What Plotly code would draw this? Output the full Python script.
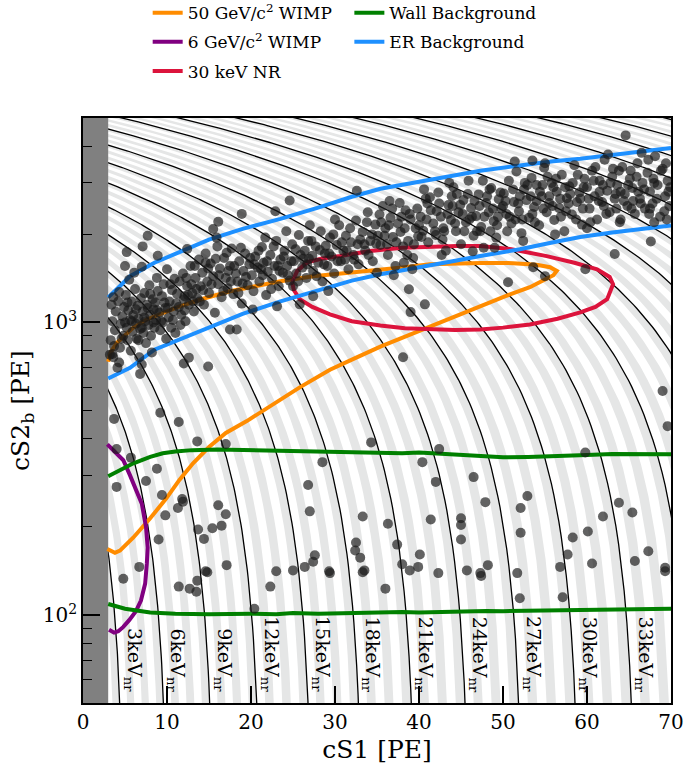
import numpy as np
import plotly.graph_objects as go

# ---------------- data ----------------
# NR energy contours: energy [keVnr] and cS1 intercept at cS2b = 0
contour_energy = [3, 6, 9, 12, 15, 18, 21, 24, 27, 30, 33]
contour_s1_intercept = [5.0, 10.2, 15.7, 21.3, 27.4, 33.4, 39.7, 46.1, 52.5, 59.2, 65.9]
upper_energy = [36, 39, 42, 45, 48, 51, 54, 57, 60, 63, 66]
upper_s1_intercept = [72.7, 79.6, 86.6, 93.7, 100.9, 108.2, 115.6, 123.1, 130.7, 138.4, 146.2]
contour_slope = 81.7  # cS2b per cS1 along a contour

# 50 GeV/c^2 WIMP contour
wimp50_s1 = [3.0, 3.3, 4.0, 4.8, 6.0, 7.6, 9.5, 11.5, 14.5, 17.5, 20.5, 23.5, 27.4, 31.0, 34.2, 38.0,
             41.3, 44.5, 47.3, 51.2, 54.0, 55.6, 56.4, 56.0, 54.5, 53.2, 50.3, 47.3, 44.3, 41.3, 38.3,
             35.4, 32.4, 29.4, 25.8, 22.3, 19.5, 17.0, 15.0, 13.1, 11.5, 9.9, 8.0, 6.0, 4.4, 3.8, 3.3, 2.9]
wimp50_s2 = [734, 790, 850, 895, 960, 1024, 1080, 1135, 1210, 1278, 1330, 1383, 1439, 1470, 1495, 1540,
             1580, 1595, 1598, 1595, 1575, 1545, 1500, 1450, 1380, 1320, 1230, 1135, 1045, 961, 890,
             827, 755, 689, 600, 518, 460, 419, 375, 330, 290, 250, 214, 184, 166, 163, 165, 168]

# 6 GeV/c^2 WIMP contour
wimp6_s1 = [2.9, 3.8, 4.8, 5.6, 6.3, 7.0, 7.5, 7.7, 7.6, 7.4, 6.9, 6.3, 5.5, 4.8, 4.2, 3.7, 3.1]
wimp6_s2 = [383, 360, 338, 300, 267, 240, 200, 170, 150, 128, 112, 103, 96, 91, 88, 87, 89]

# 30 keV NR contour
nr30_s1 = [24.9, 25.5, 26.7, 28.5, 30.6, 34.2, 38.0, 41.3, 44.5, 47.3, 51.0, 55.2, 58.5, 61.2, 62.7,
           63.1, 62.4, 61.0, 59.2, 56.5, 53.2, 50.0, 47.3, 44.3, 41.3, 38.3, 35.4, 32.0, 29.4, 27.3,
           25.8, 25.1, 24.9]
nr30_s2 = [1373, 1500, 1607, 1655, 1686, 1755, 1800, 1815, 1824, 1824, 1780, 1686, 1600, 1520, 1430,
           1351, 1200, 1130, 1082, 1030, 984, 960, 946, 943, 946, 955, 977, 1010, 1065, 1130,
           1200, 1290, 1373]

# Wall background band
wall_hi_s1 = [3, 4.5, 6, 8, 9.5, 11, 13, 16, 20, 23, 25, 28, 30, 33, 35, 38, 40, 43, 45, 48, 50, 53, 55, 58, 60, 63, 65, 68, 70]
wall_hi_s2 = [298, 315, 330, 347, 357, 362, 366, 368, 366, 364, 362, 361, 360, 359, 358, 357, 359, 355, 352, 349, 346, 347, 348, 351, 352, 355, 355, 353, 354]
wall_lo_s1 = [3, 5, 8, 11, 15, 18, 20, 23, 25, 28, 30, 33, 35, 38, 40, 43, 45, 48, 50, 53, 55, 58, 60, 63, 65, 68, 70]
wall_lo_s2 = [109, 105, 102, 101, 100.5, 101.2, 101, 100.6, 101.5, 101, 101.3, 101.8, 101.5, 102.3, 102, 102.6, 102.5, 103.2, 103, 103.4, 103.5, 104.2, 104, 104.1, 104.5, 105.2, 105]

# ER background band
er_s1 = [3, 5.6, 8.5, 11.5, 15, 19, 23.5, 28, 32, 35.4, 40, 44, 47.3, 52, 56, 59.2, 63, 66.5, 70]
er_hi_s2 = [1218, 1439, 1600, 1740, 1920, 2090, 2259, 2470, 2690, 2865, 3020, 3180, 3302, 3440, 3560, 3630, 3740, 3840, 3950]
er_lo_s2 = [643, 700, 807, 874, 960, 1070, 1181, 1290, 1390, 1462, 1540, 1620, 1686, 1780, 1880, 1960, 2030, 2090, 2145]

# events (cS1, cS2b)
events_band_low = [
    (3.3, 870), (3.5, 1010), (3.6, 760), (3.8, 940), (3.9, 1090), (4.1, 700), (4.2, 1180), (4.4, 820),
    (4.5, 990), (4.7, 1050), (4.8, 900), (4.9, 1130), (3.4, 1150), (3.2, 776), (3.7, 830),
    (5.1, 1240), (5.2, 960), (5.3, 870), (5.4, 1100), (5.6, 1020), (5.7, 800), (5.8, 1180), (5.9, 930),
    (6.0, 1060), (6.2, 1300), (6.3, 990), (6.4, 880), (6.5, 1140), (6.6, 1030), (6.8, 950), (6.9, 1210),
    (5.5, 1400), (6.1, 1480), (6.7, 760), (5.0, 1560),
    (7.7, 1980), (7.1, 1820), (5.2, 1740), (8.9, 1690), (12.4, 1782),
    (7.1, 1090), (7.2, 920), (7.3, 1260), (7.4, 1010), (7.5, 850), (7.6, 1150), (7.8, 980), (7.9, 1340),
    (8.0, 1060), (8.1, 900), (8.3, 1200), (8.4, 1110), (8.5, 960), (8.7, 1020), (8.8, 1420), (8.9, 1280),
    (7.0, 1550), (8.2, 790), (8.6, 1170),
    (9.1, 1080), (9.2, 940), (9.4, 1230), (9.5, 1000), (9.6, 1350), (9.8, 1120), (9.9, 880), (10.0, 1520),
    (10.2, 1040), (10.3, 1180), (10.5, 960), (10.6, 1290), (10.8, 1090), (10.9, 1410), (11.0, 920),
    (3.6, 1220), (4.3, 1270), (4.6, 880), (5.0, 1000), (5.3, 1170), (5.8, 1010), (6.3, 1110), (6.6, 870),
    (7.0, 960), (7.3, 1040), (7.7, 1120), (8.0, 1250), (8.4, 1000), (8.8, 1100), (9.3, 1010), (9.7, 1170),
    (10.1, 1120), (10.4, 1350), (10.7, 1020), (11.1, 1160), (11.6, 980), (12.1, 1100), (12.5, 1240),
    (13.1, 1180), (13.5, 1300),
]
events_band_mid = [
    (11.2, 1250), (11.4, 1130), (11.5, 1380), (11.7, 1060), (11.9, 1470), (12.0, 1200), (12.2, 1010),
    (12.4, 1330), (12.6, 1150), (12.8, 1560), (13.0, 1260), (13.2, 1090), (13.4, 1420), (13.6, 1210),
    (13.8, 1640), (14.0, 1330),
    (14.2, 1480), (14.4, 1150), (14.6, 1720), (14.8, 1380), (15.0, 1260), (15.2, 1590), (15.5, 1440),
    (15.7, 1080), (15.9, 1950), (16.1, 1350), (16.3, 1530), (16.5, 1220), (16.8, 1660), (17.0, 1420),
    (17.2, 1310), (17.5, 1560), (17.7, 1790), (17.9, 1250), (18.2, 1470), (18.4, 1380), (18.6, 1620),
    (18.9, 1160), (19.1, 1500), (19.3, 1720), (19.6, 1340), (19.8, 1580), (16.1, 2210), (15.5, 2088),
    (18.9, 2350),
    (20.1, 1450), (20.3, 1280), (20.5, 1680), (20.8, 1540), (21.0, 1380), (21.3, 1810), (21.5, 1600),
    (21.8, 1240), (22.0, 1490), (22.3, 1700), (22.5, 1410), (22.8, 1560), (23.0, 1900), (23.3, 1330),
    (23.5, 1640), (23.8, 1480), (24.0, 1760), (24.3, 1560), (24.6, 1390), (24.9, 1850), (25.1, 1620),
    (25.4, 1470), (25.7, 1990), (25.9, 1700), (22.9, 2400), (24.6, 2610), (20.2, 1108), (17.5, 946),
    (18.3, 946), (12.1, 1230),
    (26.1, 1540), (26.4, 1760), (26.6, 1420), (26.9, 1650), (27.2, 1900), (27.4, 1500), (27.7, 1820),
    (28.0, 1600), (28.3, 2050), (28.5, 1380), (28.8, 1720), (29.1, 1560), (29.4, 1950), (29.6, 1680),
    (29.9, 1470), (30.2, 1840), (30.5, 2150), (30.7, 1620), (31.0, 1760), (31.3, 1980), (31.6, 1520),
    (31.9, 1880), (32.2, 1700), (32.5, 2230), (32.8, 1580), (33.0, 1920), (32.6, 2820), (25.0, 1330),
    (27.4, 1230), (29.2, 1280), (23.1, 1135), (25.8, 1153),
    (19.0, 1360), (21.2, 1520), (23.2, 1560), (26.7, 1580), (28.9, 1830), (31.2, 1640), (33.5, 1850),
    (12.3, 1420), (12.9, 1350), (13.3, 1560), (13.9, 1180), (14.3, 1290), (14.9, 1530), (15.3, 1350),
    (15.8, 1650), (16.2, 1450), (16.7, 1280), (17.1, 1730), (17.6, 1380), (18.0, 1560), (18.5, 1260),
    (18.8, 1800), (19.4, 1430), (19.9, 1660), (14.6, 1600), (16.0, 1820), (17.3, 1500),
    (20.4, 1580), (20.9, 1760), (21.4, 1450), (21.9, 1620), (22.4, 1300), (22.7, 1820), (23.4, 1500),
    (23.9, 1680), (24.4, 1450), (24.8, 1620), (25.3, 1780), (25.6, 1380), (26.2, 1650), (26.8, 1900),
    (27.3, 1690), (27.8, 1440), (28.2, 1770), (28.7, 1580), (29.3, 1720), (29.8, 2000), (30.3, 1620),
    (30.8, 1880), (31.4, 1760), (31.8, 2100), (32.3, 1640), (32.7, 1850), (21.7, 1950), (24.2, 2050),
    (27.0, 2150), (30.0, 2250),
]
events_band_high = [
    (33.3, 2040), (33.6, 1760), (33.9, 2380), (34.2, 1900), (34.5, 1620), (34.8, 2160), (35.1, 1980),
    (35.4, 1840), (35.7, 2500), (36.0, 2100), (36.3, 1700), (36.6, 2280), (36.9, 1960), (37.2, 1560),
    (37.5, 2180), (37.8, 2040), (38.1, 1820), (38.4, 2420), (38.7, 1900), (39.0, 2250), (39.3, 1660),
    (39.6, 2100), (39.9, 1970), (35.0, 1480), (37.0, 1450), (39.2, 1520),
    (40.2, 2300), (40.5, 2060), (40.8, 2650), (41.1, 1880), (41.4, 2420), (41.7, 2180), (42.0, 1990),
    (42.3, 2780), (42.6, 2300), (42.9, 2100), (43.2, 1760), (43.5, 2520), (43.8, 2240), (44.1, 2900),
    (44.4, 2050), (44.7, 2380), (45.0, 1850), (45.3, 2620), (45.6, 2200), (45.9, 3050), (46.2, 2460),
    (46.5, 1980), (46.8, 2310), (47.1, 2740), (47.4, 2120), (47.7, 1800), (48.0, 2560), (48.3, 2380),
    (48.6, 2880), (48.9, 2220), (49.2, 1950), (49.5, 2640), (49.8, 2450), (51.4, 3550), (53.5, 3580),
    (38.8, 1298), (40.7, 1153), (39.0, 1085), (38.1, 760), (50.6, 1373),
    (50.1, 2760), (50.4, 2350), (50.7, 3050), (51.0, 2180), (51.3, 2580), (51.6, 3280), (51.9, 2400),
    (52.2, 2020), (52.5, 2850), (52.8, 2620), (53.1, 2280), (53.4, 3120), (53.7, 2480), (54.0, 2950),
    (54.3, 2150), (54.6, 2700), (54.9, 3380), (55.2, 2380), (55.5, 2560), (55.8, 3000), (56.1, 2240),
    (56.4, 2800), (56.7, 2460), (57.0, 3200), (57.3, 2050), (57.6, 2660), (57.9, 2920), (58.2, 2340),
    (58.5, 3450), (58.8, 2580), (59.1, 2780), (59.4, 2160), (59.7, 3100), (53.6, 1545), (55.0, 1440),
    (59.8, 1521), (63.3, 1714), (67.6, 1890),
    (60.0, 2900), (60.3, 2450), (60.6, 3300), (60.9, 2700), (61.2, 2250), (61.5, 3050), (61.8, 2580),
    (62.1, 3600), (62.4, 2820), (62.7, 2380), (63.0, 3150), (63.3, 2650), (63.6, 2950), (63.9, 2200),
    (64.2, 3400), (64.5, 2750), (64.8, 2500), (65.1, 3100), (65.4, 2880), (65.7, 2350), (66.0, 3500),
    (66.3, 2650), (66.6, 3000), (66.9, 2450), (67.2, 3250), (67.5, 2800), (67.8, 2550), (68.1, 3700),
    (68.4, 2950), (68.7, 2300), (69.0, 3350), (69.3, 2700), (69.6, 3050), (69.8, 2500), (64.6, 4360),
    (35.5, 2200), (37.9, 2300), (40.0, 2150), (42.1, 2400), (44.0, 2500), (46.0, 2250), (48.1, 2700),
    (50.0, 2500), (52.0, 2700), (54.0, 2600), (56.0, 2900), (58.0, 2750), (60.2, 2650), (62.0, 2500),
    (64.0, 2800), (66.1, 2800), (68.0, 3000), (69.9, 2900), (36.2, 1850), (38.6, 1700), (41.0, 2550),
    (43.0, 2050), (45.2, 2350), (47.3, 2050), (49.4, 2300), (51.5, 2250), (53.5, 2350), (55.5, 2700),
    (57.5, 2400), (59.5, 2450), (61.5, 2800), (63.5, 2450), (65.5, 2600), (67.5, 2450), (69.5, 2250),
    (44.5, 2750), (46.6, 2600), (48.5, 2050), (50.5, 2050), (52.6, 3000), (54.7, 2950), (56.8, 2650),
    (58.9, 3200), (61.0, 3400), (63.1, 3350), (65.2, 3300), (67.3, 3600), (69.4, 3500),
    (33.8, 2200), (34.4, 2000), (34.9, 1860), (35.3, 2340), (35.9, 1980), (36.4, 2150), (36.8, 2450),
    (37.3, 1880), (37.7, 2560), (38.3, 2100), (38.9, 2350), (39.4, 1850), (39.8, 2450), (40.3, 1960),
    (40.9, 2250), (41.3, 2680), (41.9, 2050), (42.4, 2550), (42.8, 1920), (43.4, 2350), (43.9, 2700),
    (44.3, 2180), (44.9, 2520), (45.4, 2050), (45.8, 2750), (46.3, 2300), (46.9, 2050), (47.2, 2500),
    (47.8, 2300), (48.4, 2850), (48.8, 2450), (49.3, 2150), (49.7, 2780), (36.5, 2600), (40.6, 2850),
    (43.6, 3000), (47.6, 3050), (34.0, 1700), (38.2, 1600), (42.7, 1700), (46.4, 1750), (49.0, 1800),
    (50.3, 2600), (50.8, 2300), (51.2, 2850), (51.8, 2550), (52.3, 2250), (52.9, 2950), (53.3, 2700),
    (53.8, 2200), (54.4, 2800), (54.8, 2450), (55.3, 3150), (55.9, 2500), (56.3, 3100), (56.9, 2300),
    (57.4, 2900), (57.8, 2550), (58.3, 3000), (58.7, 2250), (59.2, 2650), (59.6, 2900), (60.4, 2200),
    (60.8, 3050), (61.4, 2600), (61.9, 2950), (62.3, 2350), (62.8, 3000), (63.4, 2750), (63.8, 3300),
    (64.4, 2600), (64.9, 2950), (65.3, 2450), (65.9, 3150), (66.4, 2550), (66.8, 2850), (67.4, 2350),
    (67.9, 3100), (68.3, 2650), (68.8, 3300), (69.2, 2400), (69.7, 2800), (52.4, 1900), (56.2, 2000),
    (60.0, 2100), (64.0, 2250), (68.0, 2200), (55.0, 3500), (62.5, 3750), (66.5, 3800),
]
events_below = [
    (3.5, 780), (4.3, 730), (7.0, 718), (6.8, 667), (12.0, 724), (12.6, 758), (14.9, 707), (3.7, 468),
    (9.2, 491), (11.4, 457), (13.6, 392), (17.0, 384), (4.0, 369), (5.7, 345), (8.8, 316), (7.5, 287),
    (4.0, 274), (9.4, 257), (11.8, 249), (9.8, 219), (11.3, 232), (11.9, 244), (16.1, 237), (17.0, 221),
    (13.7, 196), (15.4, 198), (16.5, 202), (9.0, 181), (14.4, 182), (6.7, 146), (4.8, 133), (17.1, 148),
    (14.6, 141), (11.4, 125), (12.7, 123), (13.5, 120), (13.6, 131), (14.8, 140), (20.4, 105), (22.3, 125),
    (23.0, 141), (25.0, 142), (26.4, 146), (27.4, 152), (29.4, 139), (33.3, 140), (34.3, 389), (28.5, 333),
    (26.8, 278), (27.0, 226), (33.3, 217), (36.3, 205), (40.4, 333), (42.4, 369), (42.0, 285), (41.4, 212),
    (45.0, 214), (45.0, 203), (45.0, 181), (46.5, 296), (47.9, 243), (32.5, 177), (32.4, 166), (33.0, 157),
    (27.6, 160), (29.3, 141), (33.5, 142), (37.4, 174), (38.0, 149), (38.9, 142), (39.9, 146), (40.1, 161),
    (42.3, 139), (45.7, 142), (47.3, 139), (48.2, 148), (47.4, 136), (51.7, 139), (52.0, 114), (57.1, 115),
    (56.8, 146), (60.6, 150), (65.7, 153), (69.3, 141), (36.0, 123), (69.0, 583), (69.6, 442), (59.8, 359),
    (52.9, 255), (52.1, 232), (52.1, 191), (63.8, 242), (65.4, 224), (61.9, 217), (60.1, 193), (58.3, 184),
    (57.7, 161), (67.3, 165), (69.3, 145),
]

label_energies = [3, 6, 9, 12, 15, 18, 21, 24, 27, 30, 33]

# ---------------- helpers ----------------
all_energy = contour_energy + upper_energy
all_s1 = contour_s1_intercept + upper_s1_intercept


def s1_of_energy(e):
    if e < all_energy[0]:
        slope = (all_s1[1] - all_s1[0]) / (all_energy[1] - all_energy[0])
        return all_s1[0] + (e - all_energy[0]) * slope
    return float(np.interp(e, all_energy, all_s1))


BOX = [(0.0, 40.0), (80.0, 40.0), (80.0, 6000.0), (0.0, 6000.0)]


def clip(poly, f):
    out = []
    n = len(poly)
    for i in range(n):
        p, q = poly[i], poly[(i + 1) % n]
        fp, fq = f(p), f(q)
        if fp >= 0:
            out.append(p)
        if (fp >= 0) != (fq >= 0):
            t = fp / (fp - fq)
            out.append((p[0] + t * (q[0] - p[0]), p[1] + t * (q[1] - p[1])))
    return out


def densify(poly, n=80):
    xs, ys = [], []
    for i in range(len(poly)):
        p, q = poly[i], poly[(i + 1) % len(poly)]
        t = np.linspace(0, 1, n, endpoint=False)
        xs.extend(p[0] + t * (q[0] - p[0]))
        ys.extend(p[1] + t * (q[1] - p[1]))
    xs.append(poly[0][0]); ys.append(poly[0][1])
    return xs, ys


# grey stripes, half keV wide, every keV
stripe_x, stripe_y = [], []
for n in range(3, 67):
    lo, hi = s1_of_energy(n - 0.5), s1_of_energy(n)
    poly = clip(BOX, lambda p, lo=lo: p[0] + p[1] / contour_slope - lo)
    poly = clip(poly, lambda p, hi=hi: hi - p[0] - p[1] / contour_slope)
    if len(poly) < 3:
        continue
    xs, ys = densify(poly)
    stripe_x += xs + [None]
    stripe_y += ys + [None]

# black contour lines every 3 keV
line_x, line_y = [], []
for s0 in all_s1:
    a = max(0.0, s0 - 6000.0 / contour_slope)
    b = min(80.0, s0 - 40.0 / contour_slope)
    if b <= a:
        continue
    xs = np.linspace(a, b, 200)
    ys = contour_slope * (s0 - xs)
    line_x += list(xs) + [None]
    line_y += list(ys) + [None]

FONT = "DejaVu Serif"
fig = go.Figure()

fig.add_trace(go.Scatter(x=stripe_x, y=stripe_y, mode="lines", fill="toself",
                         fillcolor="#e5e6e6", line=dict(width=0), hoverinfo="skip",
                         showlegend=False))
fig.add_trace(go.Scatter(x=line_x, y=line_y, mode="lines", line=dict(color="black", width=1.3),
                         hoverinfo="skip", showlegend=False))
fig.add_trace(go.Scatter(x=[0, 3, 3, 0, 0], y=[40, 40, 6000, 6000, 40], mode="lines", fill="toself",
                         fillcolor="#808080", line=dict(width=0), hoverinfo="skip", showlegend=False))

LW = 4
fig.add_trace(go.Scatter(x=wimp50_s1, y=wimp50_s2, mode="lines", name="50 GeV/c<sup>2</sup> WIMP",
                         line=dict(color="#ff8c00", width=LW), legend="legend", legendgroup="a", legendrank=1))
fig.add_trace(go.Scatter(x=wimp6_s1, y=wimp6_s2, mode="lines", name="6 GeV/c<sup>2</sup> WIMP",
                         line=dict(color="#800080", width=LW), legend="legend", legendgroup="b", legendrank=2))
fig.add_trace(go.Scatter(x=nr30_s1, y=nr30_s2, mode="lines", name="30 keV NR",
                         line=dict(color="#dc143c", width=LW), legend="legend", legendgroup="c", legendrank=3))
fig.add_trace(go.Scatter(x=wall_hi_s1, y=wall_hi_s2, mode="lines", name="Wall Background",
                         line=dict(color="#008000", width=LW), legend="legend2", legendgroup="d", legendrank=1))
fig.add_trace(go.Scatter(x=wall_lo_s1, y=wall_lo_s2, mode="lines", name="Wall Background",
                         line=dict(color="#008000", width=LW), legend="legend2", legendgroup="d",
                         showlegend=False))
fig.add_trace(go.Scatter(x=er_s1, y=er_hi_s2, mode="lines", name="ER Background",
                         line=dict(color="#1e90ff", width=LW), legend="legend2", legendgroup="e", legendrank=2))
fig.add_trace(go.Scatter(x=er_s1, y=er_lo_s2, mode="lines", name="ER Background",
                         line=dict(color="#1e90ff", width=LW), legend="legend2", legendgroup="e",
                         showlegend=False))

events = events_band_low + events_band_mid + events_band_high + events_below
fig.add_trace(go.Scatter(x=[e[0] for e in events], y=[e[1] for e in events], mode="markers",
                         marker=dict(size=10, color="rgba(25,25,25,0.68)", line=dict(width=0)),
                         showlegend=False, hoverinfo="skip"))

for e in label_energies:
    s1b = s1_of_energy(e) - 50.0 / contour_slope
    fig.add_annotation(x=s1b + 1.6, y=np.log10(53.5), text=f"{e}keV<sub>nr</sub>", textangle=90,
                       showarrow=False, xanchor="center", yanchor="bottom",
                       font=dict(family=FONT, size=19, color="black"))

minor_vals = [60, 70, 80, 90, 200, 300, 400, 500, 600, 700, 800, 900, 2000, 3000, 4000]
fig.update_layout(
    width=685, height=768,
    margin=dict(l=83, r=14, t=118, b=65, autoexpand=False),
    paper_bgcolor="white", plot_bgcolor="white",
    font=dict(family=FONT, color="black"),
    xaxis=dict(range=[0, 70], dtick=10, ticks="inside", ticklen=17, tickwidth=1.5, tickcolor="black",
               showline=True, linecolor="black", linewidth=1.8, mirror=True, showgrid=False,
               zeroline=False, tickfont=dict(size=20, family=FONT), automargin=False,
               title=dict(text="cS1 [PE]", font=dict(size=25, family=FONT), standoff=8)),
    yaxis=dict(type="log", range=[np.log10(50), np.log10(5000)], tickvals=[100, 1000],
               ticktext=["10<sup>2</sup>", "10<sup>3</sup>"], ticks="inside", ticklen=17, tickwidth=1.5,
               tickcolor="black", showline=True, linecolor="black", linewidth=1.8, mirror=True,
               showgrid=False, zeroline=False, tickfont=dict(size=20, family=FONT), automargin=False,
               minor=dict(tickvals=minor_vals, ticks="inside", ticklen=9, tickwidth=1.2,
                          tickcolor="black", showgrid=False),
               title=dict(text="cS2<sub>b</sub> [PE]", font=dict(size=25, family=FONT), standoff=6)),
    legend=dict(x=0.11, y=1.21, xanchor="left", yanchor="top", bgcolor="rgba(0,0,0,0)",
                font=dict(size=17, family=FONT), tracegroupgap=4, itemwidth=30),
    legend2=dict(x=0.453, y=1.21, xanchor="left", yanchor="top", bgcolor="rgba(0,0,0,0)",
                 font=dict(size=17, family=FONT), tracegroupgap=4, itemwidth=30),
)

fig.write_html("out.html", config={"displayModeBar": False},
               post_script="document.body.style.margin='0';")
